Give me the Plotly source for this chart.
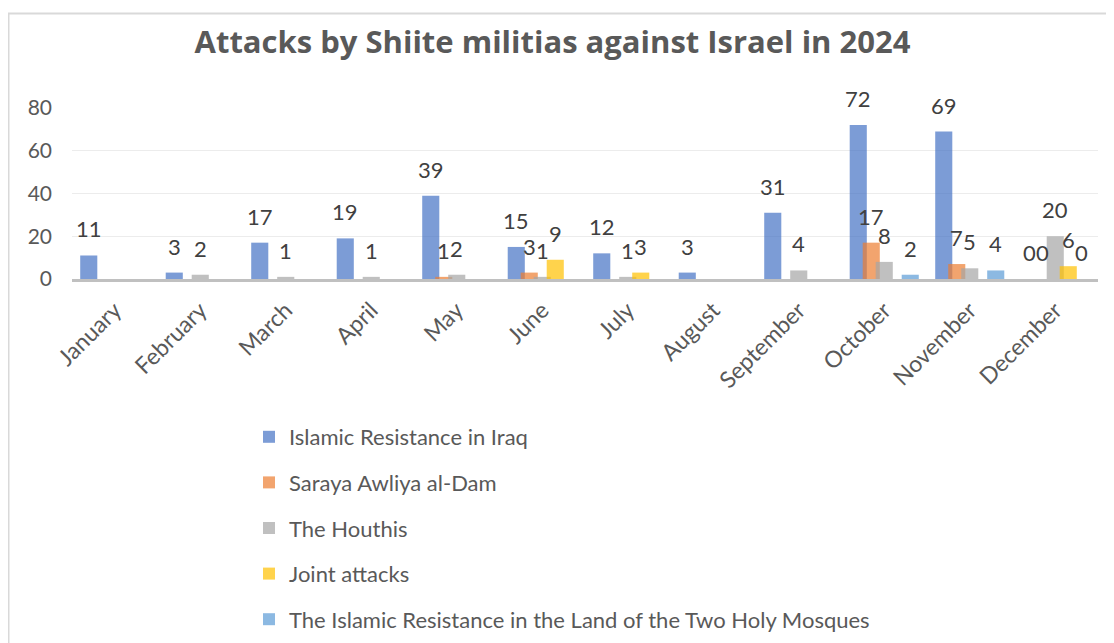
import plotly.graph_objects as go

months = ["January", "February", "March", "April", "May", "June", "July",
          "August", "September", "October", "November", "December"]
series_names = ["Islamic Resistance in Iraq", "Saraya Awliya al-Dam", "The Houthis",
                "Joint attacks", "The Islamic Resistance in the Land of the Two Holy Mosques"]
iraq = [11, 3, 17, 19, 39, 15, 12, 3, 31, 72, 69, 0]
saraya = [None, None, None, None, 1, 3, None, None, None, 17, 7, 0]
houthis = [None, 2, 1, 1, 2, 1, 1, None, 4, 8, 5, 20]
joint = [None, None, None, None, None, 9, 3, None, None, None, None, 6]
holy_mosques = [None, None, None, None, None, None, None, None, None, 2, 4, 0]
y_ticks = [0, 20, 40, 60, 80]

colors = ["rgba(68,114,196,0.7)", "rgba(237,125,49,0.7)", "rgba(165,165,165,0.7)",
          "rgba(255,192,0,0.7)", "rgba(91,155,213,0.7)"]

# page has an 8px body margin; figure coordinates = page coordinates - 8
W, H = 1106, 635
L, R, T, B = 64, 16, 100, 364
pw, ph = W - L - R, H - T - B

def px_x(x):
    return (x - L) / pw

def px_y(y):
    return (H - B - y) / ph

font_main = "Lato, Calibri, Arial, sans-serif"

fig = go.Figure()
bar_w = 0.2
step = 0.152
cat_px = pw / len(months)
annotations = []
all_series = [iraq, saraya, houthis, joint, holy_mosques]
for i, (name, vals) in enumerate(zip(series_names, all_series)):
    fig.add_trace(go.Bar(
        x=months, y=vals, name=name,
        marker=dict(color=colors[i], line=dict(width=0)),
        width=bar_w, offset=(i - 2) * step - bar_w / 2,
        cliponaxis=False, legendgroup=name,
    ))
    for m, v in zip(months, vals):
        if v is None:
            continue
        annotations.append(dict(
            x=m, y=v, xref="x", yref="y", text=str(v), showarrow=False,
            xanchor="center", yanchor="bottom",
            xshift=(i - 2) * step * cat_px, yshift=11,
            font=dict(size=22, color="#404040", family=font_main),
        ))

fig.update_layout(
    width=W, height=H,
    margin=dict(l=L, r=R, t=T, b=B, autoexpand=False),
    barmode="overlay",
    paper_bgcolor="white", plot_bgcolor="white",
    font=dict(family=font_main, color="#595959"),
    title=dict(text="<b>Attacks by Shiite militias against Israel in 2024</b>",
               x=544.5 / W, xref="container", xanchor="center",
               y=1 - 34 / H, yref="container", yanchor="middle",
               font=dict(size=31, color="#595959", family="Open Sans, Lato, sans-serif")),
    xaxis=dict(showline=True, linecolor="#C0C0C0", linewidth=2.5, tickangle=-45,
               tickfont=dict(size=23, color="#595959"), showgrid=False, ticks="",
               ticklabelstandoff=6, automargin=False),
    yaxis=dict(range=[0, 80], tickvals=y_ticks, showgrid=True, gridcolor="#ECECEC",
               gridwidth=1, zeroline=False, showline=False, automargin=False,
               tickfont=dict(size=21, color="#595959"), ticklabelstandoff=19),
    legend=dict(orientation="v", xref="container", yref="container",
                x=241 / W, xanchor="left", y=1 - 408 / H, yanchor="top",
                font=dict(size=22, color="#595959"), tracegroupgap=14,
                bgcolor="rgba(0,0,0,0)"),
    annotations=annotations,
    shapes=[dict(type="rect", xref="paper", yref="paper",
                 x0=px_x(0.5), x1=px_x(1125), y0=px_y(660), y1=px_y(5.5),
                 line=dict(color="#D9D9D9", width=2), fillcolor="rgba(0,0,0,0)", layer="below")],
)

fig.write_html("out.html")
